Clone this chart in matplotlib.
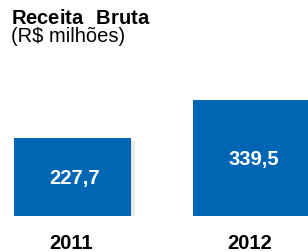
import matplotlib
matplotlib.use("Agg")
import matplotlib.pyplot as plt
import matplotlib.patheffects as pe

categories = ["2011", "2012"]
values = [227.7, 339.5]
value_labels = ["227,7", "339,5"]
title = "Receita  Bruta"
subtitle = "(R$ milhões)"

W, H = 308, 252
plt.rcParams['font.family'] = ['Liberation Sans', 'DejaVu Sans']
plt.rcParams['mathtext.fontset'] = 'custom'
plt.rcParams['mathtext.bf'] = 'Liberation Sans:bold'
plt.rcParams['mathtext.rm'] = 'Liberation Sans'
fig = plt.figure(figsize=(W / 100, H / 100), dpi=100)

ax = fig.add_axes([0, 36 / H, 1, 216 / H])
ax.set_axis_off()

x = list(range(len(categories)))
bw = 117 / 179
bars = ax.bar(x, values, width=bw, color="#0066B3", edgecolor="none",
              path_effects=[pe.SimplePatchShadow(offset=(3, -2), shadow_rgbFace="#999999", alpha=0.2),
                            pe.Normal()])
ax.set_xlim(-72.5 / 179, 1 + (308 - 251.5) / 179)
ax.set_ylim(0, 216 / (78 / 227.7))

fs = 14.5
for i, (v, lab) in enumerate(zip(values, value_labels)):
    ax.annotate(lab, xy=(i, v / 2), xytext=(1.5, -5), textcoords="offset points",
                ha="center", va="baseline", color="white", fontsize=fs, fontweight="bold")
    ax.annotate(categories[i], xy=(i, 0), xytext=(-1, -24), textcoords="offset points",
                ha="center", va="baseline", color="black", fontsize=fs, fontweight="bold",
                annotation_clip=False)

title_math = r"$\mathbf{" + title.replace(" ", r"\ ") + "}$"
header = title_math + "\n" + subtitle.replace("$", r"\$")
fig.text(11 / W, 1 - 9 / H, header, fontsize=fs, ha="left", va="top",
         linespacing=0.95)

fig.savefig("out.png", dpi=100)
